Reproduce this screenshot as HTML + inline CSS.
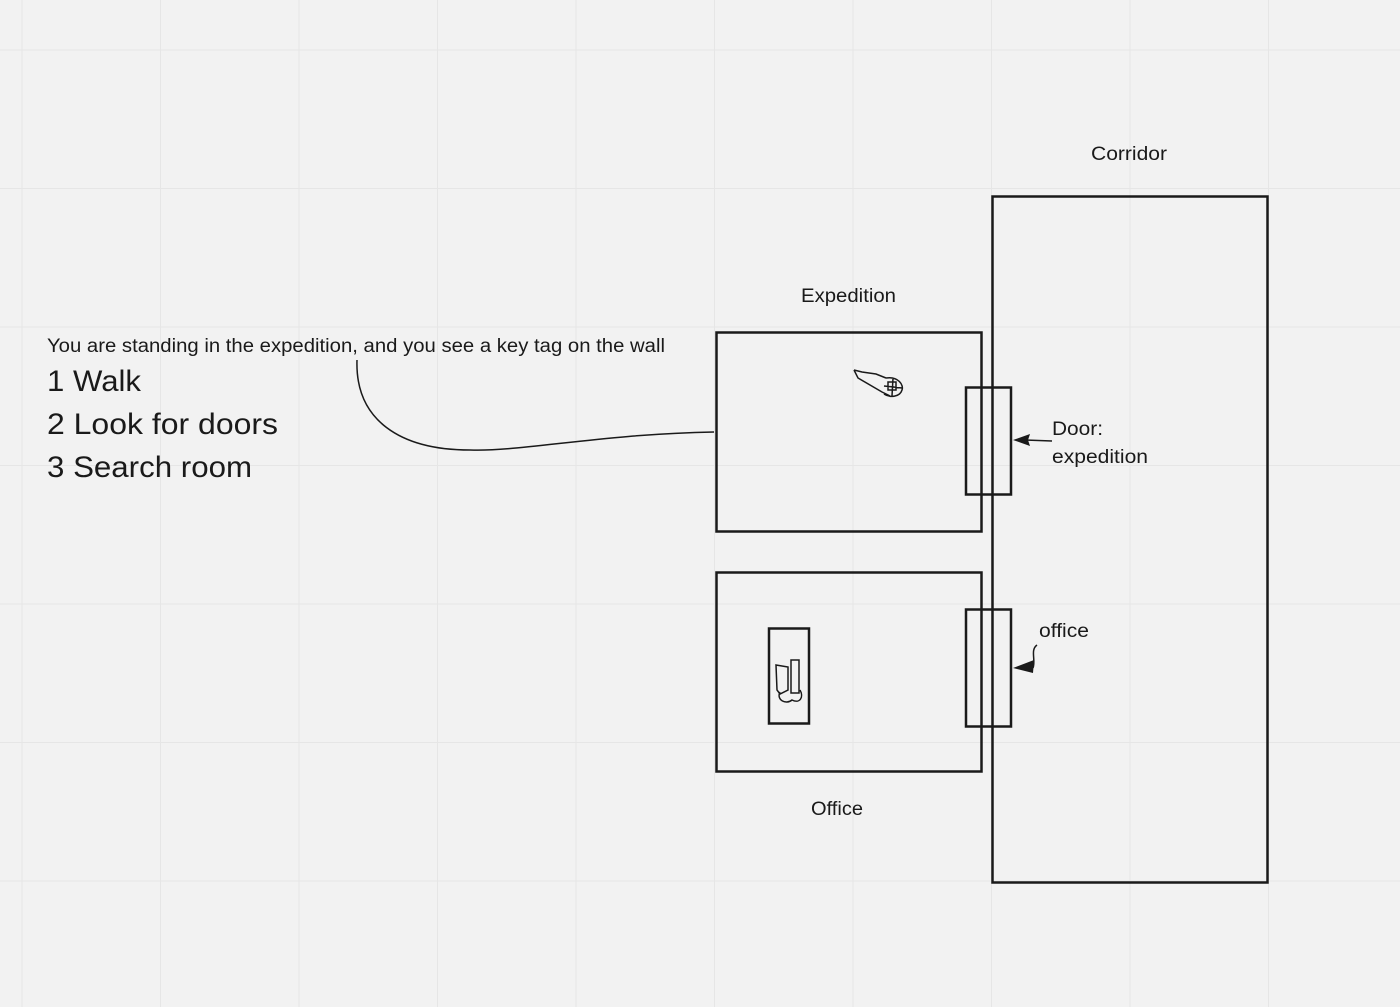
<!DOCTYPE html>
<html><head><meta charset="utf-8"><style>html,body{margin:0;padding:0;background:#f2f2f2}svg{display:block}</style></head><body>
<svg width="1400" height="1007" viewBox="0 0 1400 1007" xmlns="http://www.w3.org/2000/svg" font-family="Liberation Sans, sans-serif" fill="#1a1a1a">
<rect width="1400" height="1007" fill="#f2f2f2"/>
<g stroke="#e6e6e6" stroke-width="1">
<line x1="22" y1="0" x2="22" y2="1007"/><line x1="160.5" y1="0" x2="160.5" y2="1007"/><line x1="299" y1="0" x2="299" y2="1007"/><line x1="437.5" y1="0" x2="437.5" y2="1007"/><line x1="576" y1="0" x2="576" y2="1007"/><line x1="714.5" y1="0" x2="714.5" y2="1007"/><line x1="853" y1="0" x2="853" y2="1007"/><line x1="991.5" y1="0" x2="991.5" y2="1007"/><line x1="1130" y1="0" x2="1130" y2="1007"/><line x1="1268.5" y1="0" x2="1268.5" y2="1007"/>
<line x1="0" y1="50" x2="1400" y2="50"/><line x1="0" y1="188.5" x2="1400" y2="188.5"/><line x1="0" y1="327" x2="1400" y2="327"/><line x1="0" y1="465.5" x2="1400" y2="465.5"/><line x1="0" y1="604" x2="1400" y2="604"/><line x1="0" y1="742.5" x2="1400" y2="742.5"/><line x1="0" y1="881" x2="1400" y2="881"/>
</g>
<g fill="none" stroke="#1a1a1a" stroke-width="2.5">
<rect x="992.5" y="196.5" width="275" height="686"/>
<rect x="716.5" y="332.5" width="265" height="199"/>
<rect x="716.5" y="572.5" width="265" height="199"/>
<rect x="966" y="387.5" width="45" height="107"/>
<rect x="966" y="609.5" width="45" height="117"/>
<rect x="769" y="628.5" width="40" height="95"/>
</g>
<g fill="none" stroke="#1a1a1a" stroke-width="1.5">
<path d="M714 432 C600 434 520 452 470 450 C400 450 355 420 357 360"/>
<line x1="1052" y1="441" x2="1025" y2="440"/>
<path d="M1037 645 C1030 650 1036 660 1033 668"/>
<path d="M854 370 L858 378 L882 392 L890 396 M854 370 L862 372 L876 374 L886 378 M886 378 C898 376 904 385 902 390 C900 397 890 398 884 394 M893 378 L892 396 M884 386 L902 388 M888 382 L896 382 L896 390 L888 390 Z"/>
<path d="M776 665 L788 667 L788 690 L780 694 L777 690 Z M791 660 L799 660 L799 693 L791 693 Z M780 692 C776 700 786 705 792 700 C800 704 804 697 800 690"/>
</g>
<path d="M1013 440 L1030 434 L1028 440 L1030 446 Z" fill="#1a1a1a"/>
<path d="M1013 668 L1034 660 L1033 673 Z" fill="#1a1a1a"/>
<g font-size="19">
<text x="47" y="352" textLength="618" lengthAdjust="spacingAndGlyphs">You are standing in the expedition, and you see a key tag on the wall</text>
<text x="801" y="302" textLength="95" lengthAdjust="spacingAndGlyphs">Expedition</text>
<text x="1091" y="160" textLength="76" lengthAdjust="spacingAndGlyphs">Corridor</text>
<text x="811" y="815" textLength="52" lengthAdjust="spacingAndGlyphs">Office</text>
<text x="1052" y="435" textLength="51" lengthAdjust="spacingAndGlyphs">Door:</text>
<text x="1052" y="463" textLength="96" lengthAdjust="spacingAndGlyphs">expedition</text>
<text x="1039" y="637" textLength="50" lengthAdjust="spacingAndGlyphs">office</text>
</g>
<g font-size="30">
<text x="47" y="391" textLength="94" lengthAdjust="spacingAndGlyphs">1 Walk</text>
<text x="47" y="434" textLength="231" lengthAdjust="spacingAndGlyphs">2 Look for doors</text>
<text x="47" y="477" textLength="205" lengthAdjust="spacingAndGlyphs">3 Search room</text>
</g>
</svg>
</body></html>
